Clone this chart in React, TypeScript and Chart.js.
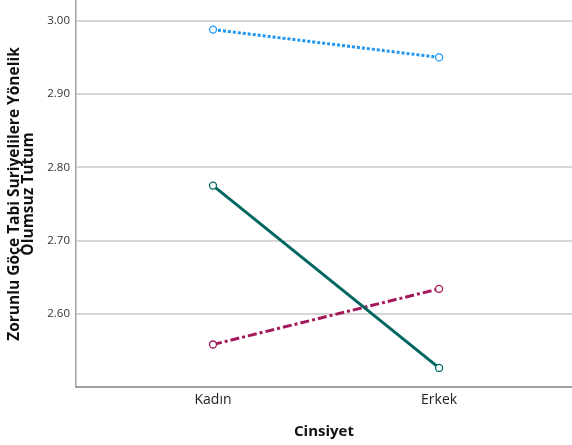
import React, { useEffect, useRef } from "react";
import { Chart, registerables } from "chart.js";
Chart.register(...registerables);

const categories = ["Kadın", "Erkek"];
const seriesBlue = [2.988, 2.950];
const seriesTeal = [2.775, 2.526];
const seriesMagenta = [2.558, 2.634];
const yTicks = [2.6, 2.7, 2.8, 2.9, 3.0];
const yTitle = ["Zorunlu Göçe Tabi Suriyelilere Yönelik", "Olumsuz Tutum"];
const xTitle = "Cinsiyet";

const FONT = "'Open Sans', 'DejaVu Sans', sans-serif";

export default function App() {
  const ref = useRef<HTMLCanvasElement | null>(null);
  useEffect(() => {
    if (!ref.current) return;
    const mk = (vals: number[]) => vals.map((v, i) => ({ x: i, y: v }));
    const ds = (label: string, vals: number[], color: string, dash: number[]) => ({
      label,
      data: mk(vals),
      borderColor: color,
      backgroundColor: "#ffffff",
      borderWidth: 3,
      borderDash: dash,
      pointRadius: 3.5,
      pointBorderWidth: 1.3,
      pointBackgroundColor: "#ffffff",
      pointBorderColor: color,
      tension: 0,
    });
    const noPad = (s: any) => {
      s.paddingTop = 0;
      s.paddingBottom = 0;
      s.paddingLeft = 0;
      s.paddingRight = 0;
    };
    const chart = new Chart(ref.current, {
      type: "line",
      data: {
        datasets: [
          ds("a", seriesBlue, "#2196f0", [3, 2]),
          ds("b", seriesTeal, "#006660", []),
          ds("c", seriesMagenta, "#a3195b", [9, 3, 3, 3]),
        ],
      },
      options: {
        animation: false,
        responsive: false,
        maintainAspectRatio: false,
        layout: { autoPadding: false, padding: { top: 1, right: 0, left: 0, bottom: 0 } },
        plugins: { legend: { display: false }, tooltip: { enabled: false } },
        scales: {
          x: {
            type: "linear",
            min: -0.606,
            max: 1.588,
            afterBuildTicks: (s: any) => {
              s.ticks = categories.map((_, i) => ({ value: i }));
            },
            afterFit: (s: any) => {
              s.height = 58;
              noPad(s);
            },
            ticks: {
              callback: (v: any) => categories[v] ?? "",
              color: "#222",
              font: { family: FONT, size: 14 },
              padding: 5,
              maxRotation: 0,
              autoSkip: false,
            },
            grid: { display: false, drawTicks: false },
            border: { color: "#a0a0a0", width: 2 },
            title: {
              display: true,
              text: xTitle,
              color: "#111",
              font: { family: FONT, size: 15, weight: "bold" },
              padding: { top: 0, bottom: 4 },
            },
          },
          y: {
            min: 2.5,
            max: 3.027,
            afterBuildTicks: (s: any) => {
              s.ticks = yTicks.map((v) => ({ value: v }));
            },
            afterFit: (s: any) => {
              s.width = 76;
              noPad(s);
            },
            ticks: {
              callback: (v: any) => Number(v).toFixed(2),
              color: "#333",
              font: { family: FONT, size: 11.5 },
              padding: 6,
            },
            grid: { color: "#d6d6d6", lineWidth: 2, drawTicks: false },
            border: { color: "#a0a0a0", width: 1.5 },
            title: {
              display: true,
              text: yTitle,
              color: "#111",
              font: { family: FONT, size: 15.5, weight: "bold", lineHeight: 0.9 },
              padding: { top: 8, bottom: 0 },
            },
          },
        },
      },
    });
    return () => chart.destroy();
  }, []);
  return (
    <div style={{ position: "fixed", left: 0, top: 0, width: 572, height: 445, background: "#fff" }}>
      <canvas ref={ref} width={572} height={445} style={{ width: 572, height: 445 }} />
    </div>
  );
}
